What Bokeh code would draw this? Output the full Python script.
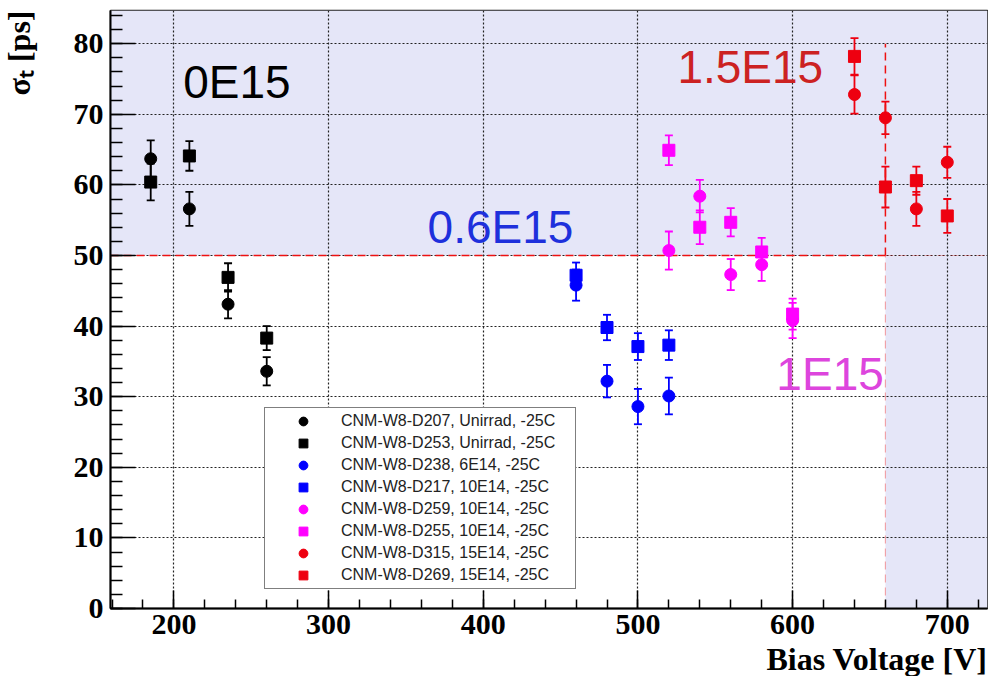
import math
from bokeh.plotting import figure
from bokeh.models import (ColumnDataSource, Whisker, TeeHead, Legend, LegendItem,
                          Label, Range1d, FixedTicker, BoxAnnotation, Title)
from bokeh.embed import file_html
from bokeh.resources import INLINE

# ---------------- data ----------------
V_D207 = [185, 210, 235, 260]
S_D207 = [63.7, 56.6, 43.1, 33.6]
E_D207 = [2.6, 2.4, 2.0, 2.0]

V_D253 = [185, 210, 235, 260]
S_D253 = [60.4, 64.1, 46.9, 38.3]
E_D253 = [2.6, 2.1, 2.0, 1.7]

V_D238 = [460, 480, 500, 520]
S_D238 = [45.8, 32.2, 28.6, 30.1]
E_D238 = [2.2, 2.3, 2.5, 2.6]

V_D217 = [460, 480, 500, 520]
S_D217 = [47.2, 39.8, 37.1, 37.3]
E_D217 = [1.8, 1.8, 1.9, 2.1]

V_D259 = [520, 540, 560, 580, 600]
S_D259 = [50.7, 58.4, 47.3, 48.7, 40.8]
E_D259 = [2.7, 2.3, 2.2, 2.3, 2.5]

V_D255 = [520, 540, 560, 580, 600]
S_D255 = [64.9, 54.0, 54.7, 50.5, 41.7]
E_D255 = [2.1, 2.4, 2.0, 2.0, 2.2]

V_D315 = [640, 660, 680, 700]
S_D315 = [72.8, 69.5, 56.6, 63.2]
E_D315 = [2.7, 2.3, 2.4, 2.2]

V_D269 = [640, 660, 680, 700]
S_D269 = [78.2, 59.7, 60.6, 55.6]
E_D269 = [2.6, 2.9, 2.0, 2.4]

LABELS = ["CNM-W8-D207, Unirrad, -25C", "CNM-W8-D253, Unirrad, -25C",
          "CNM-W8-D238, 6E14, -25C", "CNM-W8-D217, 10E14, -25C",
          "CNM-W8-D259, 10E14, -25C", "CNM-W8-D255, 10E14, -25C",
          "CNM-W8-D315, 15E14, -25C", "CNM-W8-D269, 15E14, -25C"]

X_TICKS = [200, 300, 400, 500, 600, 700]
Y_TICKS = [0, 10, 20, 30, 40, 50, 60, 70, 80]

X_TITLE = "Bias Voltage [V]"
Y_TITLE = "σₜ [ps]"

SIGMA_LIMIT = 50      # ps target line
V_LIMIT = 660         # V limit line
SIGMA_LINE_TOP = 80

ANNOT_TEXT = ["0E15", "0.6E15", "1.5E15", "1E15"]
ANNOT_X = [206, 364, 525.5, 589.5]
ANNOT_Y = [74.6, 54.1, 76.75, 33.2]
ANNOT_COLOR = ["#000000", "#1e30dc", "#cc2222", "#dd45dd"]

BLACK, BLUE, MAGENTA, RED = "#000000", "#0000ff", "#ff00ff", "#ee0010"
SHADE = "#e5e6f8"

X_LO, X_HI = 159, 726
Y_LO, Y_HI = 0, 84.7

p = figure(width=988, height=676, output_backend="svg", toolbar_location=None,
           x_range=Range1d(X_LO, X_HI), y_range=Range1d(Y_LO, Y_HI),
           min_border_left=110, min_border_right=1, min_border_top=10,
           min_border_bottom=68)
p.background_fill_color = "white"
p.border_fill_color = "white"
p.outline_line_color = "#222222"
p.outline_line_width = 1.5

# shaded regions
p.add_layout(BoxAnnotation(bottom=SIGMA_LIMIT, fill_color=SHADE, fill_alpha=1.0,
                           line_color=None, level="image"))
p.add_layout(BoxAnnotation(left=V_LIMIT, top=SIGMA_LIMIT, fill_color=SHADE, fill_alpha=1.0,
                           line_color=None, level="image"))

# axes
for ax in (p.xaxis[0], p.yaxis[0]):
    ax.major_label_text_font = "Liberation Serif"
    ax.major_label_text_font_style = "bold"
    ax.major_label_text_font_size = "30px"
    ax.major_label_text_color = "#000000"
    ax.axis_line_width = 2
    ax.axis_line_color = "#000000"
    ax.major_tick_line_color = "#000000"
    ax.minor_tick_line_color = "#000000"
    ax.major_tick_line_width = 1.5
    ax.minor_tick_line_width = 1.5
    ax.major_tick_out = 0
    ax.minor_tick_out = 0

p.xaxis.ticker = FixedTicker(ticks=X_TICKS, minor_ticks=list(range(160, 726, 20)))
p.yaxis.ticker = FixedTicker(ticks=Y_TICKS, minor_ticks=list(range(0, 85, 2)))
p.xaxis.major_tick_in = 18
p.xaxis.minor_tick_in = 9
p.yaxis.major_tick_in = 25
p.yaxis.minor_tick_in = 12
p.xaxis.major_label_standoff = 6
p.yaxis.major_label_standoff = 7

p.grid.grid_line_color = "#222222"
p.grid.grid_line_dash = "2 2"
p.grid.grid_line_width = 1.2

# axis titles as side-panel titles (with thin spacer titles in between)
p.add_layout(Title(text=" ", standoff=6, text_font_size="2px"), "below")
p.add_layout(Title(text=X_TITLE, align="right", vertical_align="top", standoff=-11,
                   offset=0, text_font="Liberation Serif", text_font_style="bold",
                   text_font_size="32px", text_color="#000000"), "below")
p.add_layout(Title(text=" ", standoff=28, text_font_size="2px"), "left")
p.add_layout(Title(text=Y_TITLE, align="right", vertical_align="top", standoff=0,
                   offset=0, text_font="Liberation Serif", text_font_style="bold",
                   text_font_size="32px", text_color="#000000"), "left")

# limit lines
p.line([X_LO, V_LIMIT], [SIGMA_LIMIT, SIGMA_LIMIT], line_color="#ee1111",
       line_dash="8 5", line_width=1.5)
p.line([V_LIMIT, V_LIMIT], [SIGMA_LIMIT, SIGMA_LINE_TOP], line_color="#ee1111",
       line_dash="8 5", line_width=1.5)
p.line([V_LIMIT, V_LIMIT], [Y_LO, SIGMA_LIMIT], line_color="#ee1111",
       line_dash="8 5", line_width=1.2, line_alpha=0.35)
p.line([V_LIMIT, X_HI], [SIGMA_LIMIT, SIGMA_LIMIT], line_color="#ee1111",
       line_dash="8 5", line_width=1.2, line_alpha=0.25)

series = [
    (V_D207, S_D207, E_D207, BLACK, "circle"),
    (V_D253, S_D253, E_D253, BLACK, "square"),
    (V_D238, S_D238, E_D238, BLUE, "circle"),
    (V_D217, S_D217, E_D217, BLUE, "square"),
    (V_D259, S_D259, E_D259, MAGENTA, "circle"),
    (V_D255, S_D255, E_D255, MAGENTA, "square"),
    (V_D315, S_D315, E_D315, RED, "circle"),
    (V_D269, S_D269, E_D269, RED, "square"),
]

items = []
for (vx, sy, er, col, mk), lab in zip(series, LABELS):
    src = ColumnDataSource(dict(x=vx, y=sy,
                                lower=[a - b for a, b in zip(sy, er)],
                                upper=[a + b for a, b in zip(sy, er)]))
    w = Whisker(source=src, base="x", lower="lower", upper="upper",
                line_color=col, line_width=1.8,
                upper_head=TeeHead(size=8, line_color=col, line_width=1.8),
                lower_head=TeeHead(size=8, line_color=col, line_width=1.8))
    p.add_layout(w)
    r = p.scatter("x", "y", source=src, marker=mk, size=12,
                  fill_color=col, line_color=col)
    items.append(LegendItem(label=lab, renderers=[r]))

legend = Legend(items=items, location=(154, 19), orientation="vertical",
                label_text_font="Liberation Sans", label_text_font_size="16px",
                label_text_color="#222222", label_height=22, glyph_height=22,
                glyph_width=72, label_standoff=2, label_width=232, padding=2,
                spacing=0, margin=0, border_line_color="#000000",
                border_line_width=1.5, background_fill_color="white",
                background_fill_alpha=1.0)
p.add_layout(legend, "center")

# region annotations
for t, x, y, c in zip(ANNOT_TEXT, ANNOT_X, ANNOT_Y, ANNOT_COLOR):
    p.add_layout(Label(x=x, y=y, text=t, text_color=c, text_font="Liberation Sans",
                       text_font_size="46px", text_align="left",
                       text_baseline="middle"))

open("out.html", "w").write(file_html(p, INLINE))
